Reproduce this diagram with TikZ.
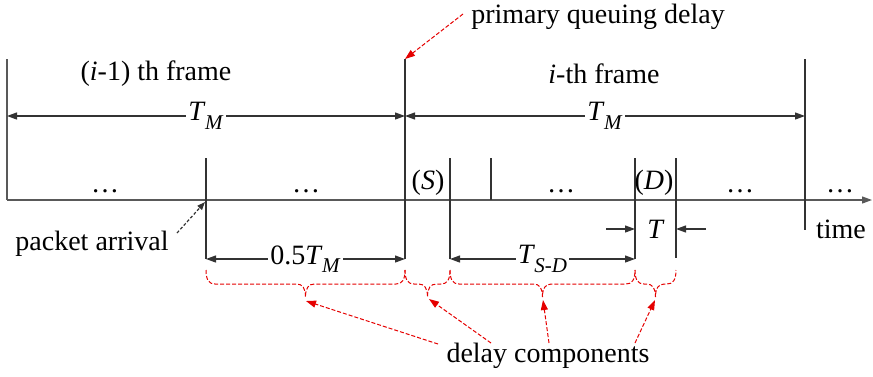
\documentclass[tikz,border=0pt]{standalone}
\usepackage{fontspec}
\setmainfont{Liberation Serif}
\usetikzlibrary{arrows.meta}
\newcommand{\lsub}[2]{\textit{#1}\kern-0.3pt\raisebox{-0.3em}{\fontsize{10.5}{11}\selectfont\textit{#2}}}
\newcommand{\dbrace}[2]{%
  \pgfmathsetmacro\xm{(#1+#2)/2}%
  \draw[reddash] (#1,270) .. controls (#1,280) and (#1+3,284) .. (#1+9,284) -- (\xm-9,284) .. controls (\xm-3,284) and (\xm,288) .. (\xm,297) .. controls (\xm,288) and (\xm+3,284) .. (\xm+9,284) -- (#2-9,284) .. controls (#2-3,284) and (#2,280) .. (#2,270);}
\begin{document}
\begin{tikzpicture}[x=0.5pt,y=-0.5pt,
  font=\fontsize{14}{16}\selectfont,
  ln/.style={draw=black!80, line width=0.6pt},
  dim/.style={ln, {Triangle[length=5pt,width=3.5pt]}-{Triangle[length=5pt,width=3.5pt]}},
  onearrow/.style={ln, -{Triangle[length=5pt,width=3.5pt]}},
  lbl/.style={fill=white, inner sep=1pt},
  txt/.style={inner sep=0pt},
  reddash/.style={draw=red!90!black, line width=0.5pt, dash pattern=on 2pt off 1pt},
  redarrow/.style={reddash, -{Triangle[length=5pt,width=3.5pt,fill=red!90!black]}},
]
\useasboundingbox (0,0) rectangle (873,376);
% axis
\coordinate (a0) at (7,200); \coordinate (a1) at (872,200);
\draw[onearrow, draw=black!65] (a0) -- (a1);
% verticals
\coordinate (L0t) at (7,59);
\coordinate (P1t) at (206,158); \coordinate (P1b) at (206,259);
\coordinate (F1t) at (405,59);  \coordinate (F1b) at (405,259);
\coordinate (St) at (450,158);  \coordinate (Sb) at (450,259);
\coordinate (Mt) at (491,158);  \coordinate (Mb) at (491,200);
\coordinate (Dt) at (635,158);  \coordinate (Db) at (635,259);
\coordinate (Et) at (676,158);  \coordinate (Eb) at (676,258);
\coordinate (F2t) at (805,59);  \coordinate (F2b) at (805,230);
\draw[ln, draw=black!65] (L0t) -- (a0);
\foreach \t/\b in {P1t/P1b,F1t/F1b,St/Sb,Mt/Mb,Dt/Db,Et/Eb,F2t/F2b} \draw[ln] (\t) -- (\b);
% frame labels
\node[txt] (fprev) at (156,74) {(\textit{i}-1) th frame};
\node[txt] (fcur) at (604,74) {\textit{i}-th frame};
% T_M arrows
\coordinate (tm0) at (7,116); \coordinate (tm1) at (405,116); \coordinate (tm2) at (805,116);
\draw[dim] (tm0) -- node[lbl] (tmA) {\lsub{T}{M}} (tm1);
\draw[dim] (tm1) -- node[lbl] (tmB) {\lsub{T}{M}} (tm2);
% primary queuing delay
\node[txt] (pqd) at (598,17) {primary queuing delay};
\coordinate (pqs) at (463,14);
\draw[redarrow] (pqs) -- (F1t);
% dots and slot labels
\foreach \x/\n in {105/d1,306/d2,561/d3,740/d4,840/d5}
  \node[txt, anchor=base] (\n) at (\x,192) {\ldots};
\node[txt, anchor=base] (S) at (428,189) {(\textit{S})};
\node[txt, anchor=base] (D) at (654,189) {(\textit{D})};
\node[txt] (time) at (841,229) {time};
% packet arrival
\node[txt] (pa) at (92,244) {packet arrival};
\coordinate (pas) at (177,233); \coordinate (pae) at (205,202);
\draw[ln, dash pattern=on 1.5pt off 1pt, -{Triangle[length=4pt,width=3pt]}] (pas) -- (pae);
% T arrows
\coordinate (Tl) at (606,229); \coordinate (Tr) at (706,229);
\coordinate (Tla) at (635,229); \coordinate (Tra) at (676,229);
\draw[onearrow] (Tl) -- (Tla);
\draw[onearrow] (Tr) -- (Tra);
\node[txt] (T) at (656,229) {\textit{T}};
% bottom dims
\coordinate (h0) at (206,259); \coordinate (h1) at (405,259);
\coordinate (s0) at (450,259); \coordinate (s1) at (635,259);
\draw[dim] (h0) -- node[lbl] (half) {0.5\lsub{T}{M}} (h1);
\draw[dim] (s0) -- node[lbl] (tsd) {\lsub{T}{S-D}} (s1);
% braces
\dbrace{206}{405}
\dbrace{405}{450}
\dbrace{450}{635}
\dbrace{635}{676}
% delay components
\node[txt] (dc) at (548,356) {delay components};
\coordinate (b1) at (306,301); \coordinate (b2) at (429,299);
\coordinate (b3) at (543,300); \coordinate (b4) at (655,300);
\coordinate (c1) at (438,344); \coordinate (c2) at (491,343);
\coordinate (c3) at (549,343); \coordinate (c4) at (635,343);
\draw[redarrow] (c1) -- (b1);
\draw[redarrow] (c2) -- (b2);
\draw[redarrow] (c3) -- (b3);
\draw[redarrow] (c4) -- (b4);
\end{tikzpicture}
\end{document}
